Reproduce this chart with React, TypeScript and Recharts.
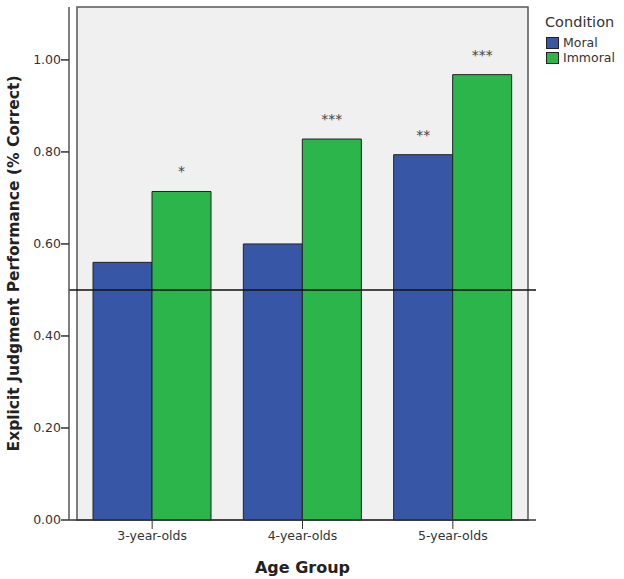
import {
  Bar,
  BarChart,
  LabelList,
  ReferenceArea,
  ReferenceLine,
  XAxis,
  YAxis
} from 'recharts'

const AGE_GROUPS = ['3-year-olds', '4-year-olds', '5-year-olds']
const MORAL = [0.56, 0.6, 0.794]
const IMMORAL = [0.714, 0.828, 0.968]
const MORAL_SIG = ['', '', '**']
const IMMORAL_SIG = ['*', '***', '***']
const Y_TICKS = [0, 0.2, 0.4, 0.6, 0.8, 1.0]
const Y_MAX = 1.115
const CHANCE = 0.5

const BLUE = '#3757a6'
const GREEN = '#2bb54b'
const FONT = '"DejaVu Sans", Verdana, sans-serif'

const data = AGE_GROUPS.map((group, i) => ({
  group,
  moral: MORAL[i],
  immoral: IMMORAL[i],
  moralSig: MORAL_SIG[i],
  immoralSig: IMMORAL_SIG[i]
}))

function LegendBox() {
  const items = [
    { label: 'Moral', color: BLUE },
    { label: 'Immoral', color: GREEN }
  ]
  return (
    <div style={{ position: 'absolute', left: 545, top: 13, fontFamily: FONT, color: '#333' }}>
      <div style={{ fontSize: 14.5, lineHeight: '18px', marginBottom: 4 }}>Condition</div>
      {items.map((item) => (
        <div key={item.label} style={{ display: 'flex', alignItems: 'center', height: 15 }}>
          <span
            style={{
              display: 'inline-block',
              width: 11,
              height: 10,
              background: item.color,
              border: '1px solid #222',
              marginLeft: 1,
              marginRight: 4
            }}
          />
          <span style={{ fontSize: 12.5 }}>{item.label}</span>
        </div>
      ))}
    </div>
  )
}

export default function App() {
  return (
    <div style={{ position: 'absolute', left: 0, top: 0, width: 624, height: 579, background: '#fff' }}>
      <BarChart
        width={624}
        height={579}
        data={data}
        margin={{ top: 7, right: 88, left: 0, bottom: 0 }}
        barGap={0}
        barCategoryGap={16}
      >
        <ReferenceArea y1={0} y2={Y_MAX} fill="#f0f0f0" fillOpacity={1} stroke="#555" strokeWidth={1.5} />
        <XAxis
          dataKey="group"
          height={59}
          padding={{ left: 8, right: 8 }}
          tickSize={9}
          tickMargin={2}
          tick={{ fontSize: 12.5, fill: '#333', fontFamily: FONT }}
          axisLine={{ stroke: '#333', strokeWidth: 1.5 }}
          tickLine={{ stroke: '#333' }}
          label={{
            value: 'Age Group',
            position: 'insideBottom',
            offset: 6,
            fontSize: 16,
            fontWeight: 'bold',
            fill: '#222',
            fontFamily: FONT
          }}
        />
        <YAxis
          width={69}
          domain={[0, Y_MAX]}
          ticks={Y_TICKS}
          tickFormatter={(v: number) => v.toFixed(2)}
          tickSize={8}
          tickMargin={0}
          tick={{ fontSize: 12.5, fill: '#333', fontFamily: FONT }}
          axisLine={{ stroke: '#555', strokeWidth: 1.5 }}
          tickLine={{ stroke: '#333', strokeWidth: 1.5 }}
          label={{
            value: 'Explicit Judgment Performance (% Correct)',
            angle: -90,
            position: 'insideLeft',
            offset: 13,
            style: { textAnchor: 'middle' },
            fontSize: 15.5,
            fontWeight: 'bold',
            fill: '#222',
            fontFamily: FONT
          }}
        />
        <Bar dataKey="moral" fill={BLUE} stroke="#222" strokeWidth={1} isAnimationActive={false}>
          <LabelList dataKey="moralSig" position="top" offset={15} fontSize={14} fill="#444" fontFamily={FONT} />
        </Bar>
        <Bar dataKey="immoral" fill={GREEN} stroke="#222" strokeWidth={1} isAnimationActive={false}>
          <LabelList dataKey="immoralSig" position="top" offset={15} fontSize={14} fill="#444" fontFamily={FONT} />
        </Bar>
        <ReferenceLine y={CHANCE} stroke="#111" strokeWidth={1.5} />
      </BarChart>
      <LegendBox />
    </div>
  )
}
